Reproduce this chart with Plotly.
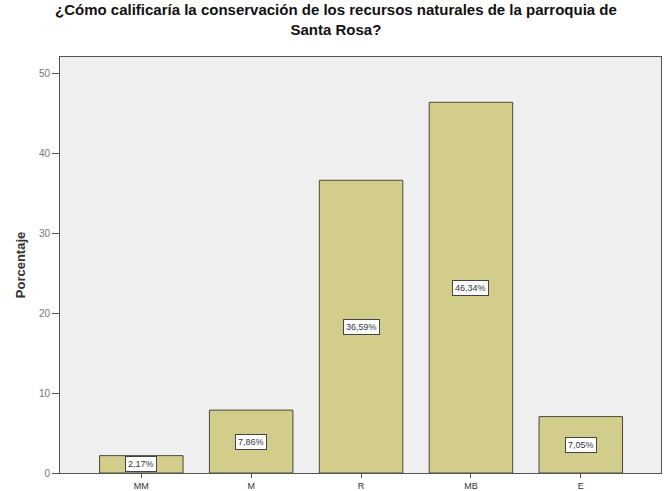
import plotly.graph_objects as go

categories = ["MM", "M", "R", "MB", "E"]
values = [2.17, 7.86, 36.59, 46.34, 7.05]
labels = ["2,17%", "7,86%", "36,59%", "46,34%", "7,05%"]
y_ticks = [0, 10, 20, 30, 40, 50]
title_lines = ["¿Cómo calificaría la conservación de los recursos naturales de la parroquia de",
               "Santa Rosa?"]

fig = go.Figure()
fig.add_trace(go.Bar(
    x=categories, y=values, width=0.76,
    marker=dict(color="#d3cd8c", line=dict(color="#4a4a3a", width=1)),
    hoverinfo="skip",
))

for c, v, t in zip(categories, values, labels):
    fig.add_annotation(
        x=c, y=v / 2, text=t, showarrow=False,
        font=dict(family="Liberation Sans, Arial", size=9, color="#333344"),
        bgcolor="white", bordercolor="#444444", borderwidth=1, borderpad=2,
    )

top, bottom = 57, 18
plot_h = 491 - top - bottom
fig.add_annotation(
    xref="paper", yref="paper", x=0.46, y=1 + (top - 20) / plot_h,
    xanchor="center", yanchor="middle",
    text="<b>" + "<br>".join(title_lines) + "</b>",
    showarrow=False, align="center",
    font=dict(family="Liberation Sans, Arial", size=15, color="#111111"),
)

fig.update_layout(
    width=664, height=491,
    margin=dict(l=60, r=3, t=top, b=bottom),
    paper_bgcolor="white", plot_bgcolor="#f0f0f0",
    showlegend=False,
    font=dict(family="Liberation Sans, Arial"),
)
fig.update_xaxes(
    range=[-0.74, 4.73], automargin=False,
    showline=True, linecolor="#555555", linewidth=1, mirror=True,
    ticks="outside", ticklen=4, tickcolor="#555555",
    tickfont=dict(size=9, color="#333333"),
    showgrid=False,
)
fig.update_yaxes(
    range=[0, 52], tickvals=y_ticks, automargin=False,
    showline=True, linecolor="#555555", linewidth=1, mirror=True,
    ticks="outside", ticklen=7, tickcolor="#555555",
    tickfont=dict(size=10, color="#777777"),
    showgrid=False, zeroline=False,
    title=dict(text="<b>Porcentaje</b>", font=dict(size=13, color="#333333"), standoff=10),
)

fig.write_html("out.html", config={"displayModeBar": False},
               post_script="document.body.style.margin='0';")
